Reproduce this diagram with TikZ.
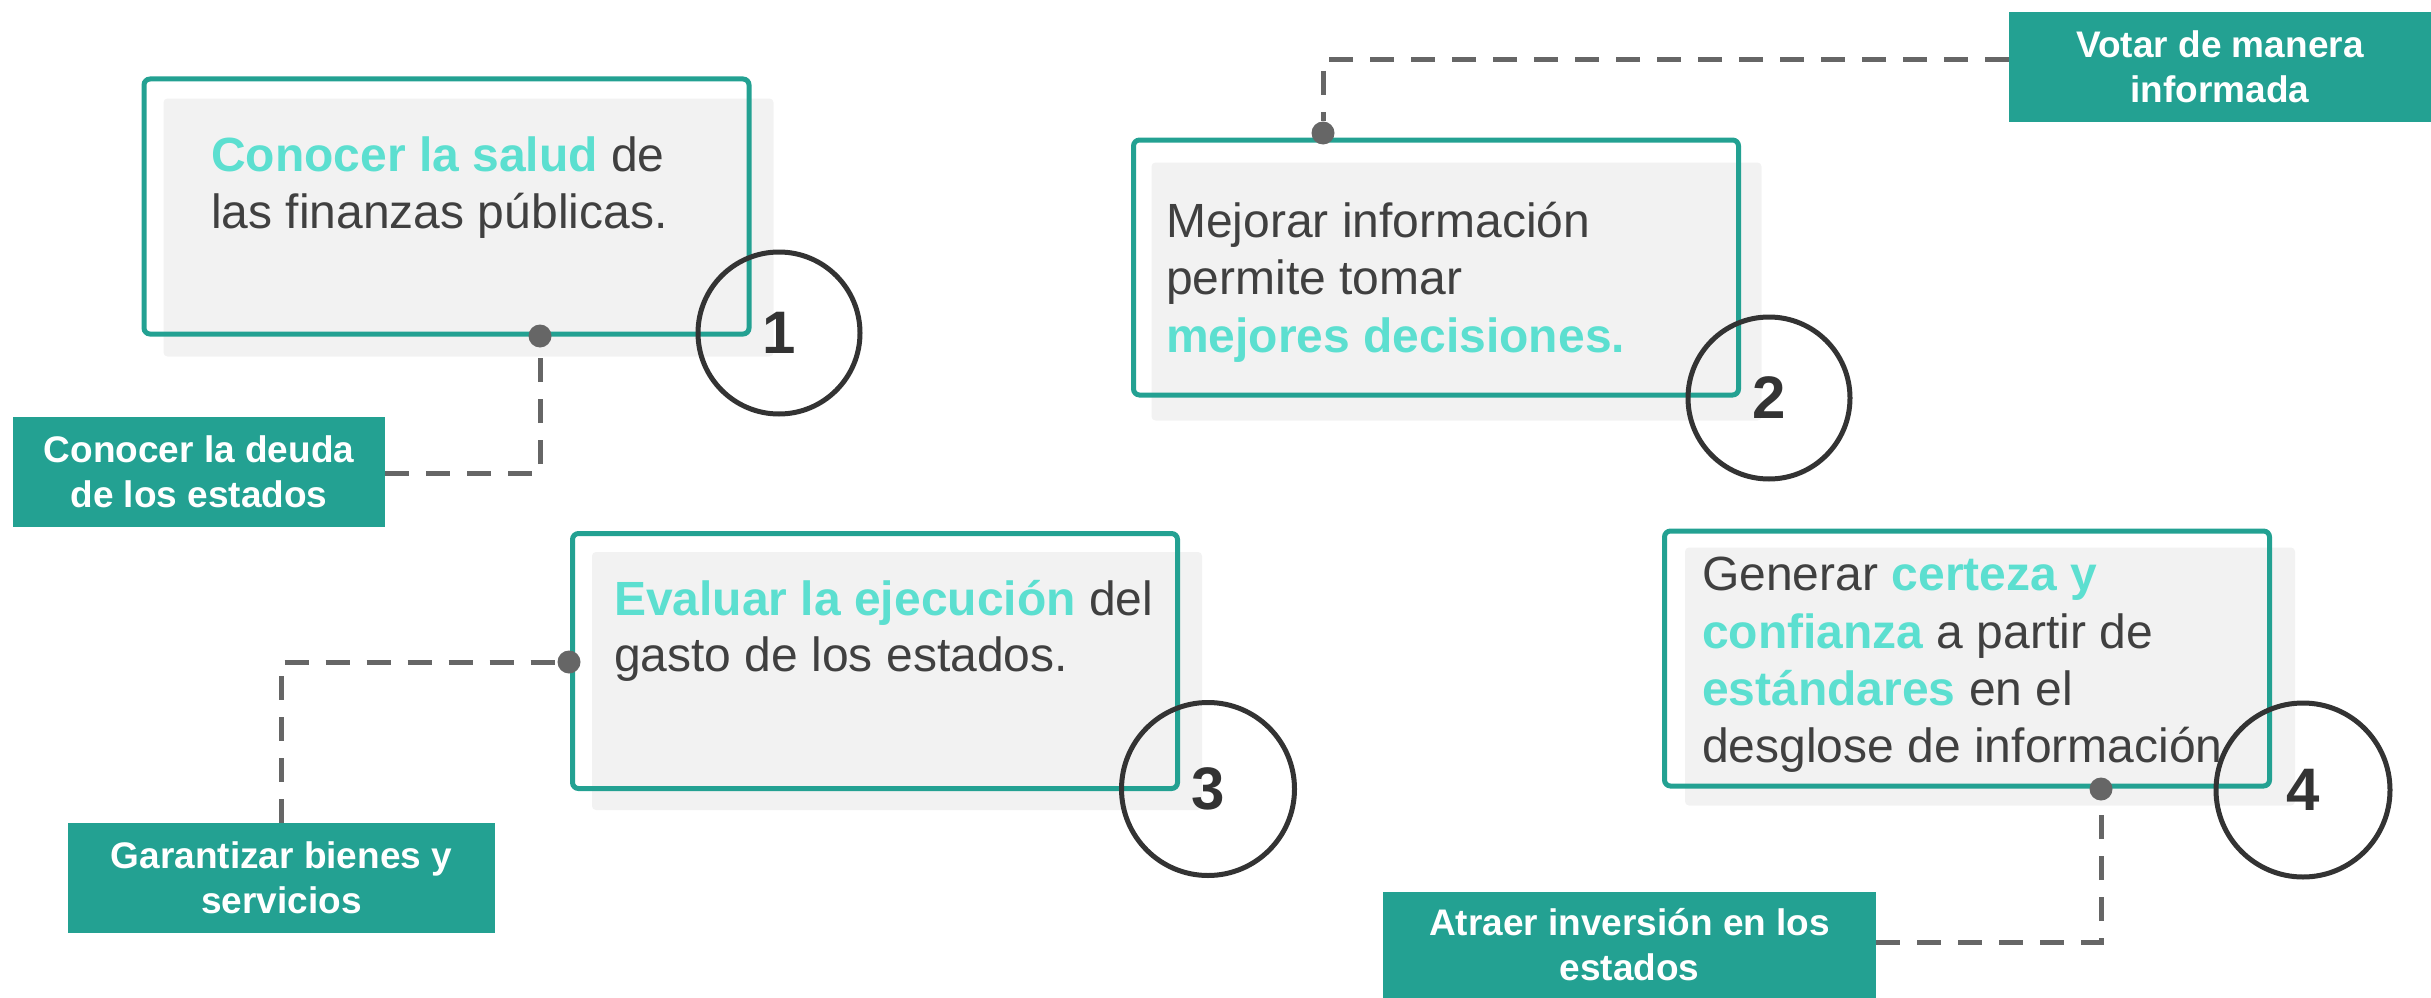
\documentclass[tikz,border=0pt]{standalone}
\usepackage{fontspec}
\setmainfont{Liberation Sans}
\definecolor{teal1}{RGB}{35,161,146}
\definecolor{hlc}{RGB}{92,223,208}
\definecolor{txtc}{RGB}{64,64,64}
\definecolor{dashc}{RGB}{102,102,102}
\definecolor{circc}{RGB}{51,51,51}
\definecolor{greyc}{RGB}{242,242,242}
\newcommand{\hl}[1]{{\color{hlc}\bfseries #1}}
\tikzset{
  greybox/.style={fill=greyc, draw=none, rounded corners=4pt, minimum width=610pt, minimum height=258pt, inner sep=0pt},
  outlinebox/.style={draw=teal1, line width=5pt, rounded corners=6pt, minimum width=605pt, minimum height=255pt, inner sep=0pt},
  txt/.style={anchor=base west, inner sep=0pt, text=txtc, font=\fontsize{48pt}{57pt}\selectfont},
  lbl/.style={fill=teal1, text=white, inner sep=0pt, align=center, font=\fontsize{37pt}{45pt}\selectfont\bfseries},
  numcirc/.style={circle, draw=circc, line width=5pt, inner sep=0pt},
  numtxt/.style={text=circc, inner sep=0pt, font=\fontsize{60pt}{64pt}\selectfont\bfseries},
  dotnode/.style={circle, fill=dashc, minimum size=23pt, inner sep=0pt},
  conn/.style={draw=dashc, line width=5pt, dash pattern=on 24pt off 17pt}
}
\begin{document}
\begin{tikzpicture}[x=1pt,y=-1pt]
\useasboundingbox (0,0) rectangle (2431,998);
% Box 1
\node[greybox] (g1) at (468.5,227.5) {};
\node[outlinebox] (b1) at (446.5,206.5) {};
\node[txt] (t1a) at (211,171) {\hl{Conocer la salud} de};
\node[txt] (t1b) at (211,228) {las finanzas públicas.};
\node[numcirc, minimum size=162pt] (c1) at (779,333) {};
\node[numtxt] (n1) at (c1.center) {1};
% Box 2
\node[greybox] (g2) at (1456.5,291.5) {};
\node[outlinebox] (b2) at (1436,267.5) {};
\node[txt] (t2a) at (1166,237) {Mejorar información};
\node[txt] (t2b) at (1166,294) {permite tomar};
\node[txt] (t2c) at (1166,352) {\hl{mejores decisiones.}};
\node[numcirc, minimum size=162pt] (c2) at (1769,398) {};
\node[numtxt] (n2) at (c2.center) {2};
% Box 3
\node[greybox] (g3) at (897,681) {};
\node[outlinebox] (b3) at (875,661) {};
\node[txt] (t3a) at (614,615) {\hl{Evaluar la ejecución} del};
\node[txt] (t3b) at (614,671) {gasto de los estados.};
\node[numcirc, minimum size=173pt] (c3) at (1208,789) {};
\node[numtxt] (n3) at (c3.center) {3};
% Box 4
\node[greybox] (g4) at (1990,676.5) {};
\node[outlinebox] (b4) at (1967,658.5) {};
\node[txt] (t4a) at (1702,590) {Generar \hl{certeza y}};
\node[txt] (t4b) at (1702,648) {\hl{confianza} a partir de};
\node[txt] (t4c) at (1702,705) {\hl{estándares} en el};
\node[txt] (t4d) at (1702,762) {desglose de información};
\node[numcirc, minimum size=174pt] (c4) at (2303,790) {};
\node[numtxt] (n4) at (c4.center) {4};
% Labels
\node[lbl, minimum width=372pt, minimum height=110pt] (l1) at (199,472) {Conocer la deuda\\de los estados};
\node[lbl, minimum width=422pt, minimum height=110pt] (l2) at (2220,67) {Votar de manera\\informada};
\node[lbl, minimum width=427pt, minimum height=110pt] (l3) at (281.5,878) {Garantizar bienes y\\servicios};
\node[lbl, minimum width=493pt, minimum height=106pt] (l4) at (1629.5,945) {Atraer inversión en los\\estados};
% Dots
\node[dotnode] (d1) at (540,336) {};
\node[dotnode] (d2) at (1323,133) {};
\node[dotnode] (d3) at (569,662) {};
\node[dotnode] (d4) at (2101,789) {};
\coordinate (k2) at (2009,60);
\coordinate (k1) at (385,473);
\coordinate (k4) at (1876,942);
% Connectors
\draw[conn] (k1) -| (d1.south);
\draw[conn] (k2) -| (d2.north);
\draw[conn] (l3.north) |- (d3.west);
\draw[conn] (k4) -| (d4.south);
\end{tikzpicture}
\end{document}
